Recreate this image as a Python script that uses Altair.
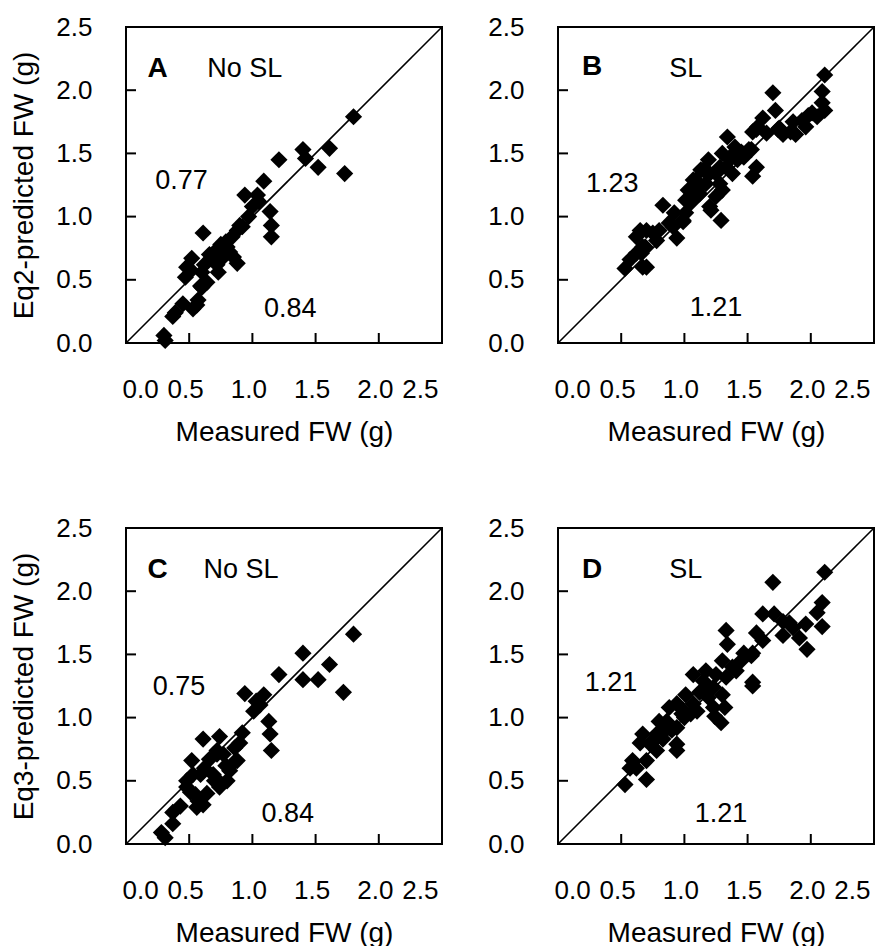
import altair as alt
import pandas as pd

# ---------------- data ----------------
TICKS = [0.0, 0.5, 1.0, 1.5, 2.0, 2.5]
INNER_TICKS = [0.5, 1.0, 1.5, 2.0]

# Panel A: Eq2, No SL
ax = [1.80, 1.40, 1.42, 1.61, 1.52, 1.73, 1.21, 1.09, 0.94, 1.04,
      1.00, 1.05, 1.14, 1.15, 1.15, 0.61, 0.92, 0.88, 0.84, 0.79,
      0.80, 0.72, 0.77, 0.85, 0.88, 0.72, 0.73, 0.68, 0.52, 0.48,
      0.47, 0.60, 0.59, 0.57, 0.53, 0.45, 0.39, 0.37, 0.30, 0.31,
      0.56, 0.60, 0.51, 0.82, 0.75, 0.66, 0.90, 0.97, 0.64, 0.62]
ay = [1.79, 1.53, 1.46, 1.54, 1.39, 1.34, 1.45, 1.28, 1.17, 1.17,
      1.08, 1.12, 1.04, 0.93, 0.84, 0.87, 0.92, 0.89, 0.84, 0.80,
      0.76, 0.74, 0.68, 0.68, 0.63, 0.62, 0.56, 0.68, 0.67, 0.60,
      0.52, 0.56, 0.45, 0.34, 0.27, 0.31, 0.24, 0.21, 0.06, 0.02,
      0.30, 0.44, 0.58, 0.72, 0.78, 0.70, 0.93, 1.00, 0.48, 0.62]

# Panel B: Eq2, SL
bx = [2.11, 1.70, 1.72, 2.09, 2.09, 2.11, 2.05, 1.98, 1.96, 1.86,
      1.88, 1.78, 1.75, 1.62, 1.58, 1.65, 1.54, 1.34, 1.53, 1.45,
      1.57, 1.54, 1.19, 1.30, 1.33, 1.25, 1.38, 1.07, 1.17, 1.30,
      1.09, 1.04, 1.21, 1.29, 1.25, 0.83, 0.92, 0.99, 0.91, 0.94,
      0.80, 0.75, 0.65, 0.62, 0.78, 0.69, 0.66, 0.57, 0.53, 0.70,
      1.03, 1.15, 1.38, 1.47, 1.01, 1.12, 2.01, 1.93, 1.84, 1.74,
      1.57, 1.51, 1.46, 1.36, 1.28, 1.20, 1.12, 1.28, 1.01, 1.20,
      0.88, 0.99, 0.70, 0.67, 0.62, 0.67, 1.13, 1.09, 1.40, 1.42]
by = [2.12, 1.98, 1.84, 1.99, 1.90, 1.84, 1.79, 1.80, 1.71, 1.75,
      1.65, 1.65, 1.70, 1.78, 1.71, 1.66, 1.67, 1.63, 1.53, 1.51,
      1.39, 1.32, 1.45, 1.50, 1.39, 1.34, 1.34, 1.29, 1.26, 1.21,
      1.16, 1.11, 1.05, 0.97, 1.16, 1.09, 1.03, 0.96, 0.92, 0.83,
      0.89, 0.87, 0.89, 0.84, 0.81, 0.76, 0.71, 0.66, 0.59, 0.60,
      1.21, 1.37, 1.49, 1.47, 1.03, 1.18, 1.82, 1.76, 1.67, 1.69,
      1.69, 1.53, 1.50, 1.45, 1.39, 1.34, 1.24, 1.26, 1.13, 1.08,
      0.95, 0.97, 0.89, 0.76, 0.71, 0.60, 1.37, 1.29, 1.55, 1.45]

# Panel C: Eq3, No SL
cx = [1.80, 1.40, 1.40, 1.52, 1.61, 1.72, 1.21, 0.94, 1.09, 1.03,
      1.01, 1.13, 1.14, 1.15, 0.61, 0.74, 0.92, 0.90, 0.72, 0.77,
      0.85, 0.52, 0.48, 0.59, 0.72, 0.74, 0.80, 0.51, 0.57, 0.61,
      0.56, 0.43, 0.37, 0.37, 0.28, 0.31, 0.48, 0.72, 0.86, 0.69,
      0.55, 0.82, 0.62, 0.66, 0.79, 0.88, 1.06, 0.64, 0.53, 0.70]
cy = [1.66, 1.51, 1.30, 1.30, 1.42, 1.20, 1.34, 1.19, 1.18, 1.13,
      1.05, 0.97, 0.87, 0.74, 0.83, 0.85, 0.88, 0.80, 0.74, 0.71,
      0.64, 0.66, 0.50, 0.55, 0.51, 0.45, 0.50, 0.41, 0.34, 0.31,
      0.29, 0.30, 0.25, 0.16, 0.09, 0.05, 0.45, 0.71, 0.76, 0.55,
      0.39, 0.58, 0.60, 0.67, 0.62, 0.66, 1.10, 0.40, 0.55, 0.50]

# Panel D: Eq3, SL
dx = [2.11, 1.70, 2.09, 2.05, 2.09, 1.62, 1.71, 1.78, 1.86, 1.96,
      1.97, 1.91, 1.78, 1.57, 1.62, 1.33, 1.34, 1.47, 1.53, 1.54,
      1.54, 1.07, 1.17, 1.30, 1.25, 1.33, 1.41, 1.23, 1.30, 1.19,
      1.07, 0.94, 1.05, 0.98, 1.23, 1.32, 1.24, 1.29, 0.88, 0.86,
      0.80, 0.94, 0.78, 0.67, 0.65, 0.73, 0.78, 0.94, 0.94, 0.59,
      0.57, 0.70, 0.70, 0.53, 0.62, 1.01, 1.54, 1.15, 1.83, 1.20,
      1.12, 0.90, 0.83, 0.75, 1.10, 1.38, 0.85, 1.00, 1.45, 0.99]
dy = [2.15, 2.07, 1.91, 1.83, 1.72, 1.82, 1.82, 1.76, 1.71, 1.74,
      1.54, 1.63, 1.65, 1.67, 1.61, 1.69, 1.58, 1.51, 1.49, 1.28,
      1.25, 1.34, 1.37, 1.45, 1.34, 1.32, 1.37, 1.24, 1.18, 1.16,
      1.11, 1.11, 1.03, 1.03, 1.08, 1.08, 1.01, 0.96, 1.08, 0.97,
      0.97, 0.92, 0.87, 0.87, 0.80, 0.79, 0.74, 0.79, 0.74, 0.66,
      0.60, 0.66, 0.51, 0.47, 0.60, 1.18, 1.51, 1.29, 1.75, 1.22,
      1.20, 0.90, 0.83, 0.82, 1.05, 1.40, 0.90, 1.00, 1.45, 1.06]

letters = ["A", "B", "C", "D"]
conditions = ["No SL", "SL", "No SL", "SL"]
upper_values = ["0.77", "1.23", "0.75", "1.21"]
lower_values = ["0.84", "1.21", "0.84", "1.21"]
y_titles = ["Eq2-predicted FW (g)", None, "Eq3-predicted FW (g)", None]
x_title = "Measured FW (g)"

# annotation anchor points (data units)
letter_pos = [(0.25, 2.17), (0.27, 2.18), (0.25, 2.17), (0.27, 2.17)]
cond_pos = [(0.94, 2.17), (1.01, 2.17), (0.91, 2.17), (1.01, 2.17)]
upper_pos = [(0.44, 1.28), (0.43, 1.26), (0.42, 1.24), (0.42, 1.27)]
lower_pos = [(1.30, 0.27), (1.25, 0.28), (1.28, 0.24), (1.29, 0.24)]

# ---------------- chart ----------------
FONT = "Liberation Sans"
W = 316


def panel(xs, ys, i):
    sx = alt.Scale(domain=[0, 2.5], nice=False, zero=False)
    sy = alt.Scale(domain=[0, 2.5], nice=False, zero=False)
    xaxis = alt.Axis(values=TICKS, format=".1f", title=x_title,
                     labelPadding=33, titlePadding=16, labelOffset=-4)
    if y_titles[i]:
        yaxis = alt.Axis(values=TICKS, format=".1f", title=y_titles[i],
                         labelPadding=34, titlePadding=17)
    else:
        yaxis = alt.Axis(values=TICKS, format=".1f", title=None,
                         labelPadding=34)

    pts = alt.Chart(pd.DataFrame({"x": xs, "y": ys})).mark_point(
        shape="diamond", filled=True, color="black", size=295, opacity=1
    ).encode(
        x=alt.X("x:Q", scale=sx, axis=xaxis),
        y=alt.Y("y:Q", scale=sy, axis=yaxis),
    )

    ident = alt.Chart(pd.DataFrame({"x": [TICKS[0], TICKS[-1]],
                                    "y": [TICKS[0], TICKS[-1]]})).mark_line(
        color="black", strokeWidth=1.6
    ).encode(x=alt.X("x:Q", scale=sx), y=alt.Y("y:Q", scale=sy))

    xt = alt.Chart(pd.DataFrame({"x": INNER_TICKS})).mark_rule(
        color="black", strokeWidth=2
    ).encode(x=alt.X("x:Q", scale=sx), y=alt.value(W), y2=alt.value(W - 10))

    yt = alt.Chart(pd.DataFrame({"y": INNER_TICKS})).mark_rule(
        color="black", strokeWidth=2
    ).encode(y=alt.Y("y:Q", scale=sy), x=alt.value(0), x2=alt.value(10))

    lab = alt.Chart(pd.DataFrame({
        "x": [letter_pos[i][0]], "y": [letter_pos[i][1]], "t": [letters[i]]
    })).mark_text(font=FONT, fontSize=28, fontWeight="bold", color="black").encode(
        x=alt.X("x:Q", scale=sx), y=alt.Y("y:Q", scale=sy), text="t:N")

    txt = alt.Chart(pd.DataFrame({
        "x": [cond_pos[i][0], upper_pos[i][0], lower_pos[i][0]],
        "y": [cond_pos[i][1], upper_pos[i][1], lower_pos[i][1]],
        "t": [conditions[i], upper_values[i], lower_values[i]],
    })).mark_text(font=FONT, fontSize=27, color="black").encode(
        x=alt.X("x:Q", scale=sx), y=alt.Y("y:Q", scale=sy), text="t:N")

    return alt.layer(pts, ident, xt, yt, lab, txt).properties(width=W, height=W)


panels = [panel(ax, ay, 0), panel(bx, by, 1), panel(cx, cy, 2), panel(dx, dy, 3)]

chart = alt.concat(
    *panels, columns=2, spacing={"row": 185, "column": 116}, bounds="flush"
).properties(
    padding={"left": 1, "top": 5, "right": 5, "bottom": 5},
    background="white",
).configure_view(
    stroke="black", strokeWidth=2
).configure_axis(
    grid=False, domain=False, ticks=False,
    labelFont=FONT, titleFont=FONT,
    labelFontSize=26, titleFontSize=28, titleFontWeight="normal",
    labelColor="black", titleColor="black",
)

chart.save("out.html", embed_options={"renderer": "svg", "actions": False})
